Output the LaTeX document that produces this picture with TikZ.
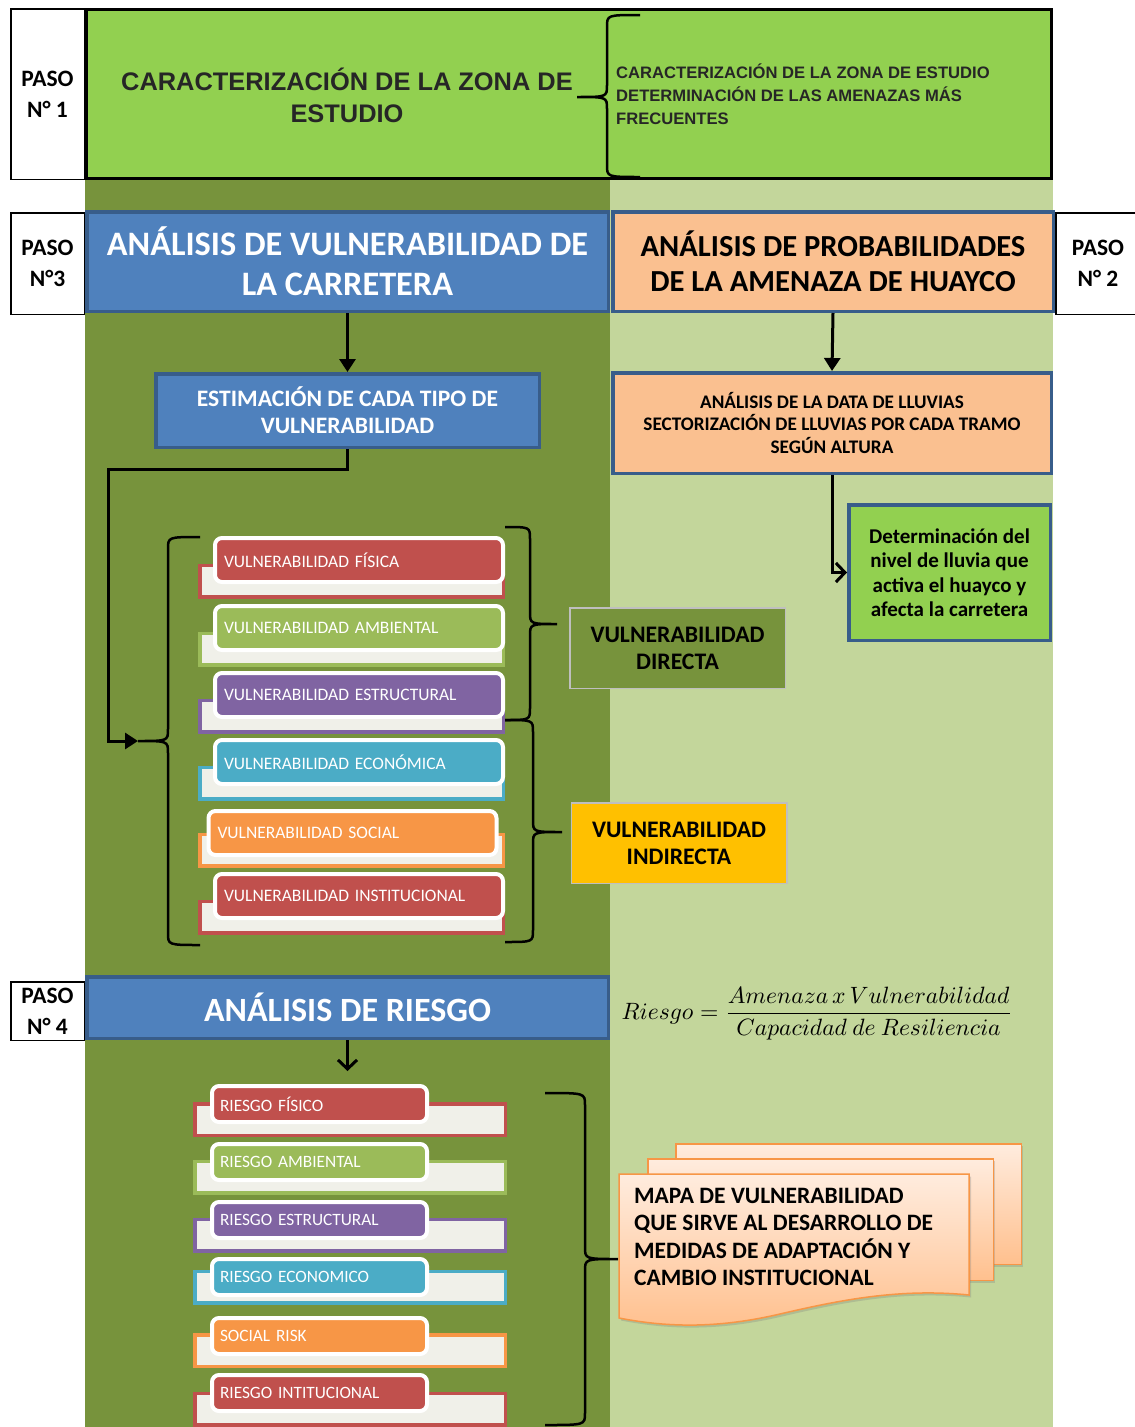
\documentclass[tikz,border=0pt]{standalone}
\usepackage{amsmath}
\usepackage{graphicx}
\usepackage[no-math]{fontspec}
\setmainfont{Carlito}
\newfontfamily\arialfont{Liberation Sans}
\usetikzlibrary{arrows.meta,positioning,shadows}
\definecolor{colgreen}{RGB}{119,147,60}
\definecolor{palegreen}{RGB}{195,214,155}
\definecolor{limegreen}{RGB}{146,208,80}
\definecolor{boxblue}{RGB}{79,129,189}
\definecolor{edgeblue}{RGB}{56,93,138}
\definecolor{peach}{RGB}{250,192,144}
\definecolor{amber}{RGB}{255,192,0}
\definecolor{itemred}{RGB}{192,80,77}
\definecolor{itemgreen}{RGB}{155,187,89}
\definecolor{itempurple}{RGB}{128,100,162}
\definecolor{itemcyan}{RGB}{75,172,198}
\definecolor{itemorange}{RGB}{247,150,70}
\definecolor{tabfill}{RGB}{240,240,233}
\definecolor{docpale}{RGB}{255,236,222}
\definecolor{docpeach}{RGB}{255,192,142}
\newcommand{\fsz}[2]{\fontsize{#1}{#2}\selectfont}
\newcommand{\curlybr}[6]{%
  \draw[brc] (#1,#4) .. controls (#2,#4) .. (#2,#4+12) -- (#2,#5-12)
    .. controls (#2,#5) .. (#3,#5) .. controls (#2,#5) .. (#2,#5+12)
    -- (#2,#6-12) .. controls (#2,#6) .. (#1,#6);}

\begin{document}
\begin{tikzpicture}[x=1pt, y=-1pt,
    pasobox/.style={draw, line width=1.5pt, fill=white, minimum width=73.5pt, align=center, inner sep=0pt, font=\bfseries\fsz{23.5}{31}},
    headbox/.style={draw=edgeblue, line width=3.5pt, fill=#1, align=center, inner sep=0pt, font=\bfseries},
    tagbox/.style={draw=white, line width=4pt, rounded corners=7pt, fill=#1, text=white, align=left, inner xsep=9pt, inner ysep=0pt, minimum height=44pt, text width=270pt, font=\fsz{17.5}{20}},
    rtagbox/.style={tagbox=#1, minimum height=36pt, inner xsep=8pt, text width=199pt, font=\fsz{17.3}{20}},
    tabbox/.style={draw=#1, line width=3.5pt, fill=tabfill, minimum height=31.5pt, inner sep=0pt},
    kindbox/.style={draw=black!25, line width=1.5pt, fill=#1, minimum width=215.5pt, minimum height=80.5pt, align=center, inner sep=0pt, font=\bfseries\fsz{23.7}{27}},
    sheet/.style={draw=itemorange, line width=1.5pt, top color=docpale, bottom color=docpeach, drop shadow={shadow xshift=2pt, shadow yshift=-2.5pt, opacity=0.3}},
    brc/.style={line width=2.5pt},
    arr/.style={-{Triangle[length=13pt, width=16pt]}, line width=3pt},
    arrv/.style={-{Straight Barb[length=9pt, width=19pt]}, line width=3pt}
]
\fill[white] (0,0) rectangle (1135,1427);
\useasboundingbox (0,0) rectangle (1135,1427);
\fill[colgreen] (85,8) rectangle (610,1427);
\fill[palegreen] (610,8) rectangle (1053,1427);

\node[pasobox, minimum height=170.5pt] (paso1) at (47.5,94) {PASO\\N° 1};
\node[draw, line width=3pt, fill=limegreen, minimum width=965pt, minimum height=169pt] (zona) at (569,94) {};
\node[font=\arialfont\bfseries\fsz{25.4}{32}, text=black!85, align=center] (caract) at (347,95) {CARACTERIZACIÓN DE LA ZONA DE\\ESTUDIO};
\node[anchor=west, inner sep=0pt, font=\arialfont\bfseries\fsz{16.6}{23}, text=black!85, align=left] (tareas) at (616,94) {CARACTERIZACIÓN DE LA ZONA DE ESTUDIO\\DETERMINACIÓN DE LAS AMENAZAS MÁS\\FRECUENTES};
\curlybr{640}{607}{577}{15}{97}{177}

\node[pasobox, minimum height=101.5pt] (paso3) at (47.5,263.5) {PASO\\N°3};
\node[pasobox, minimum height=101.5pt, minimum width=84.5pt] (paso2) at (1098,263.5) {PASO\\N° 2};
\node[headbox=boxblue, text=white, minimum width=521.5pt, minimum height=99.5pt, font=\bfseries\fsz{34.3}{40}] (vuln) at (347.5,261.5) {ANÁLISIS DE VULNERABILIDAD DE\\LA CARRETERA};
\node[headbox=peach, minimum width=440.5pt, minimum height=99.5pt, font=\bfseries\fsz{30.6}{35}] (prob) at (833,261.5) {ANÁLISIS DE PROBABILIDADES\\DE LA AMENAZA DE HUAYCO};

\node[headbox=boxblue, text=white, minimum width=383.5pt, minimum height=73.5pt, font=\bfseries\fsz{23.6}{27}] (estim) at (347.5,410.5) {ESTIMACIÓN DE CADA TIPO DE\\VULNERABILIDAD};
\node[headbox=peach, minimum width=438.5pt, minimum height=100.5pt, font=\bfseries\fsz{19.2}{22.5}] (rain) at (832,423) {ANÁLISIS DE LA DATA DE LLUVIAS\\SECTORIZACIÓN DE LLUVIAS POR CADA TRAMO\\SEGÚN ALTURA};
\node[headbox=limegreen, minimum width=201.5pt, minimum height=135.5pt, font=\bfseries\fsz{21}{24.5}] (det) at (949.5,572.5) {Determinación del\\nivel de lluvia que\\activa el huayco y\\afecta la carretera};

\draw[arr] (vuln.south) -- (estim.north);
\draw[arr] (prob.south) -- (rain.north);
\draw[arrv] (rain.south) |- (det.west);

\node[tabbox=itemred, minimum width=303.5pt] (vb1) at (351.5,581) {};
\node[tagbox=itemred] (vf1) at (359,560) {VULNERABILIDAD FÍSICA};
\node[tabbox=itemgreen, minimum width=303.5pt] (vb2) at (351.5,649) {};
\node[tagbox=itemgreen] (vf2) at (359,628) {VULNERABILIDAD AMBIENTAL};
\node[tabbox=itempurple, minimum width=303.5pt] (vb3) at (351.5,716) {};
\node[tagbox=itempurple] (vf3) at (359,695) {VULNERABILIDAD ESTRUCTURAL};
\node[tabbox=itemcyan, minimum width=303.5pt] (vb4) at (351.5,783) {};
\node[tagbox=itemcyan] (vf4) at (359,762) {VULNERABILIDAD ECONÓMICA};
\node[tabbox=itemorange, minimum width=303.5pt] (vb5) at (351.5,850) {};
\node[tagbox=itemorange] (vf5) at (352.5,833) {VULNERABILIDAD SOCIAL};
\node[tabbox=itemred, minimum width=303.5pt] (vb6) at (351.5,917) {};
\node[tagbox=itemred] (vf6) at (359,896) {VULNERABILIDAD INSTITUCIONAL};

\coordinate (bend) at (108,469);
\coordinate (vtip) at (138,741);
\draw[arr] (estim.south) |- (bend) |- (vtip);
\curlybr{200}{168}{138}{537}{741}{945}
\curlybr{505}{530}{557}{527}{624}{720}
\curlybr{505}{533}{562}{720}{832}{942}

\node[kindbox=colgreen] (directa) at (677.5,648) {VULNERABILIDAD\\DIRECTA};
\node[kindbox=amber] (indirecta) at (679,843) {VULNERABILIDAD\\INDIRECTA};

\node[pasobox, minimum height=58.5pt] (paso4) at (47.5,1011) {PASO\\N° 4};
\node[headbox=boxblue, text=white, minimum width=521.5pt, minimum height=61.5pt, font=\bfseries\fsz{34}{40}] (riesgo) at (347.5,1007.5) {ANÁLISIS DE RIESGO};
\node (formula) at (817,1014) {\scalebox{2.36}{$\displaystyle Riesgo=\frac{Amenaza\,x\,Vulnerabilidad}{Capacidad\ de\ Resiliencia}$}};

\node[tabbox=itemred, minimum width=310.5pt] (rb1) at (350,1119.5) {};
\node[rtagbox=itemred] (rf1) at (319.5,1104) {RIESGO FÍSICO};
\node[tabbox=itemgreen, minimum width=310.5pt] (rb2) at (350,1177) {};
\node[rtagbox=itemgreen] (rf2) at (319.5,1162) {RIESGO AMBIENTAL};
\node[tabbox=itempurple, minimum width=310.5pt] (rb3) at (350,1235) {};
\node[rtagbox=itempurple] (rf3) at (319.5,1220) {RIESGO ESTRUCTURAL};
\node[tabbox=itemcyan, minimum width=310.5pt] (rb4) at (350,1287) {};
\node[rtagbox=itemcyan] (rf4) at (319.5,1277) {RIESGO ECONOMICO};
\node[tabbox=itemorange, minimum width=310.5pt] (rb5) at (350,1350.5) {};
\node[rtagbox=itemorange] (rf5) at (319.5,1336) {SOCIAL RISK};
\node[tabbox=itemred, minimum width=310.5pt] (rb6) at (350,1409) {};
\node[rtagbox=itemred] (rf6) at (319.5,1393) {RIESGO INTITUCIONAL};

\draw[arrv, shorten >=13pt] (riesgo.south) -- (riesgo.south |- rf1.north);
\curlybr{545}{585}{618}{1093}{1259}{1425}

\node[sheet, minimum width=345.5pt, minimum height=120.5pt] (hoja3) at (848.5,1204) {};
\node[sheet, minimum width=345.5pt, minimum height=121.5pt] (hoja2) at (820.5,1219.5) {};
\draw[sheet] (619,1174) -- (969,1174) -- (969,1295) .. controls (900,1288) and (840,1300) .. (780,1314) .. controls (720,1328) and (670,1328) .. (619,1318) -- cycle;
\node[anchor=west, inner sep=0pt, align=left, font=\bfseries\fsz{23.5}{27.3}] (mapa) at (634,1237) {MAPA DE VULNERABILIDAD\\QUE SIRVE AL DESARROLLO DE\\MEDIDAS DE ADAPTACIÓN Y\\CAMBIO INSTITUCIONAL};
\end{tikzpicture}
\end{document}
